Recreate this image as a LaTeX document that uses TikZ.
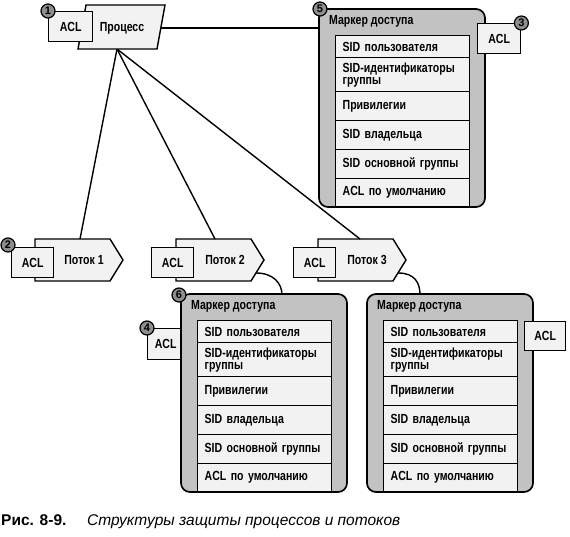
\documentclass[tikz,border=0pt]{standalone}
\usepackage{fontspec}
\setmainfont{Liberation Sans}
\newfontfamily\dfont{Liberation Sans}[FakeStretch=0.8]
\definecolor{lightf}{HTML}{F2F2F2}
\definecolor{markf}{HTML}{C2C2C2}
\definecolor{badgef}{HTML}{8E8E8E}
\tikzset{
  box/.style={draw, line width=1.4pt, fill=lightf},
  dtext/.style={font=\dfont\bfseries\fontsize{13.2}{13.5}\selectfont},
  acl/.style={box, dtext, minimum width=43pt, minimum height=30pt, inner sep=0pt, anchor=north west},
  badge/.style={circle, draw, line width=1.2pt, fill=badgef, minimum size=14pt, inner sep=0pt,
     font=\bfseries\fontsize{11}{11}\selectfont},
  conn/.style={draw, line width=1.4pt},
  rowbox/.style={box, dtext, anchor=north west, text width=120pt, inner xsep=7pt, inner ysep=1pt,
     align=left, minimum width=133pt},
  markbox/.style={draw, line width=1.7pt, fill=markf, rounded corners=9pt},
}
\newcommand\threadshape[4]{% name, left x, label, connector x
  \begin{scope}[shift={(#2,239)}]
    \draw[box] (0,0) -- (75,0) -- (88,21) -- (75,42) -- (0,42) -- cycle;
    \node[dtext] (#1) at (49,21) {#3};
    \coordinate (#1top) at (#4,0);
    \coordinate (#1c) at (80,34);
  \end{scope}}
\newcommand\tokenbox[3]{% name, x, y
  \begin{scope}[shift={(#2,#3)}]
    \draw[markbox] (0,0) rectangle (166,198);
    \node[dtext, anchor=west, inner sep=0pt] (#1) at (10,12) {Маркер доступа};
    \node[rowbox, minimum height=22pt] (#1r1) at (16,26) {SID пользователя};
    \node[rowbox, minimum height=34pt] (#1r2) at (16,48) {SID-идентификаторы\\[-1.5pt]группы};
    \node[rowbox, minimum height=29pt] (#1r3) at (16,82) {Привилегии};
    \node[rowbox, minimum height=29pt] (#1r4) at (16,111) {SID владельца};
    \node[rowbox, minimum height=29pt] (#1r5) at (16,140) {SID основной группы};
    \node[rowbox, minimum height=28pt] (#1r6) at (16,169) {ACL по умолчанию};
  \end{scope}}
\begin{document}
\begin{tikzpicture}[x=1pt,y=-1pt]
\useasboundingbox[fill=white] (0,0) rectangle (570,537);
% connectors behind
\coordinate (procbot) at (117,49);
\coordinate (procR) at (161,28);
\coordinate (m5in) at (320,28);
\coordinate (c6) at (282,295);
\coordinate (c7) at (420,295);
\threadshape{t1}{35}{Поток 1}{45}
\threadshape{t2}{176}{Поток 2}{39}
\threadshape{t3}{318}{Поток 3}{42}
\draw[conn] (procbot) -- (t1top);
\draw[conn] (procbot) -- (t2top);
\draw[conn] (procbot) -- (t3top);
\draw[conn] (procR) -- (m5in);
\draw[conn] (t2c) .. controls +(17,0) and +(0,-12) .. (c6);
\draw[conn] (t3c) .. controls +(17,0) and +(0,-12) .. (c7);
% process
\draw[box] (86,5) -- (165,5) -- (157,49) -- (78,49) -- cycle;
\node[dtext] (proc) at (122,28) {Процесс};
\node[acl, minimum width=44pt] (acl1) at (48,11) {ACL};
\node[badge] (b1) at (acl1.north west) {1};
% thread ACLs
\node[acl, minimum width=42pt] (acl2) at (11,247) {ACL};
\node[badge] (b2) at ([xshift=-3pt,yshift=2pt]acl2.north west) {2};
\node[acl, minimum width=42pt] (aclt2) at (151,247) {ACL};
\node[acl, minimum width=42pt] (aclt3) at (293,247) {ACL};
% ACL 4 behind token 6
\node[acl, minimum width=42pt, minimum height=31pt] (acl4) at (147,328) {\hspace*{-6pt}ACL};
% tokens
\tokenbox{m5}{319}{9}
\tokenbox{m6}{181}{294}
\tokenbox{m7}{367}{294}
\node[badge] (b5) at (320,9) {5};
\node[badge] (b6) at (179,295) {6};
\node[badge] (b4) at (acl4.north west) {4};
% ACL boxes in front of tokens
\node[acl, minimum width=43pt] (acl3) at (477,23) {ACL};
\node[badge] (b3) at (acl3.north east) {3};
\node[acl, minimum width=41pt, minimum height=29pt] (acl7) at (524,321) {ACL};
% caption
\node[anchor=base west, inner sep=0pt, font=\bfseries\fontsize{15.5}{18}\selectfont] (capnum) at (1,525) {Рис. 8-9.};
\node[anchor=base west, inner sep=0pt, font=\itshape\fontsize{15.5}{18}\selectfont] (captext) at (87,525) {Структуры защиты процессов и потоков};
\end{tikzpicture}
\end{document}
